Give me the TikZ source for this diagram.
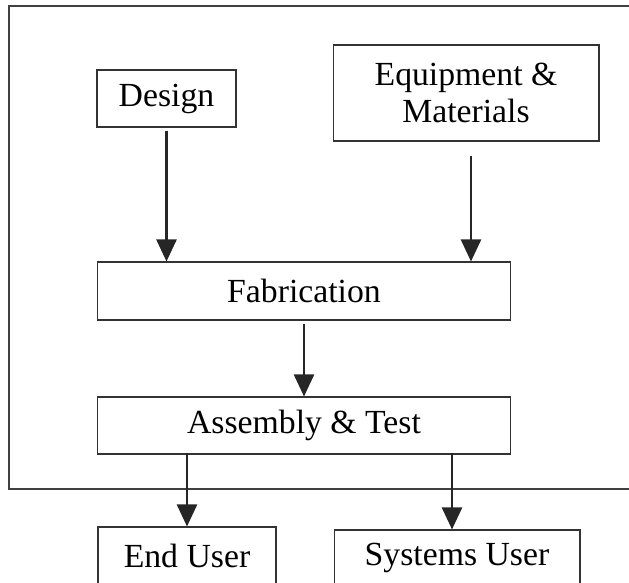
\documentclass[tikz,border=0pt]{standalone}
\usepackage{fontspec}
\setmainfont{Liberation Serif}
\usepackage{tikz}
\usetikzlibrary{arrows.meta, positioning, calc}

\begin{document}
\begin{tikzpicture}[
    x=0.02cm, y=-0.02cm,
    box/.style={draw=black!80, line width=0.6pt, inner sep=0pt, align=center, font=\fontsize{19.2}{21}\selectfont},
    frame/.style={draw=black!75, line width=0.6pt},
    arrow/.style={-{Triangle[length=0.44cm, width=0.4cm]}, line width=1.4pt, draw=black!85}
]
    \useasboundingbox (0,0) rectangle (629,582);

    % Outer frame
    \draw[frame] (9,6) rectangle (660,489);

    % Inputs
    \node[box, minimum width=2.78cm, minimum height=1.14cm] (design) at (166.5,98.5) {Design};
    \node[box, minimum width=5.32cm, minimum height=1.92cm] (equip) at (466,93) {Equipment \&\\Materials};

    % Process
    \node[box, minimum width=8.28cm, minimum height=1.16cm] (fab) at (304,291) {Fabrication};
    \node[box, minimum width=8.28cm, minimum height=1.14cm] (asm) at (304,425.5) {Assembly \& Test};

    % Users
    \node[box, minimum width=3.56cm, minimum height=1.16cm] (enduser) at (187,556) {End User};
    \node[box, minimum width=4.92cm, minimum height=1.12cm] (sysuser) at (457,558) {Systems User};

    % Connections
    \coordinate (e1) at ($(equip.south)+(5,14)$);
    \coordinate (s1) at ($(sysuser.north)+(-5,0)$);
    \draw[arrow] ($(design.south)+(0,3)$) -- (fab.north -| design.south);
    \draw[arrow] (e1) -- (e1 |- fab.north);
    \draw[arrow] ($(fab.south)+(0,3)$) -- (asm.north);
    \draw[arrow] ($(asm.south -| enduser.north)+(0,-2)$) -- (enduser.north);
    \draw[arrow] ($(s1 |- asm.south)+(0,-2)$) -- (s1);
\end{tikzpicture}
\end{document}
